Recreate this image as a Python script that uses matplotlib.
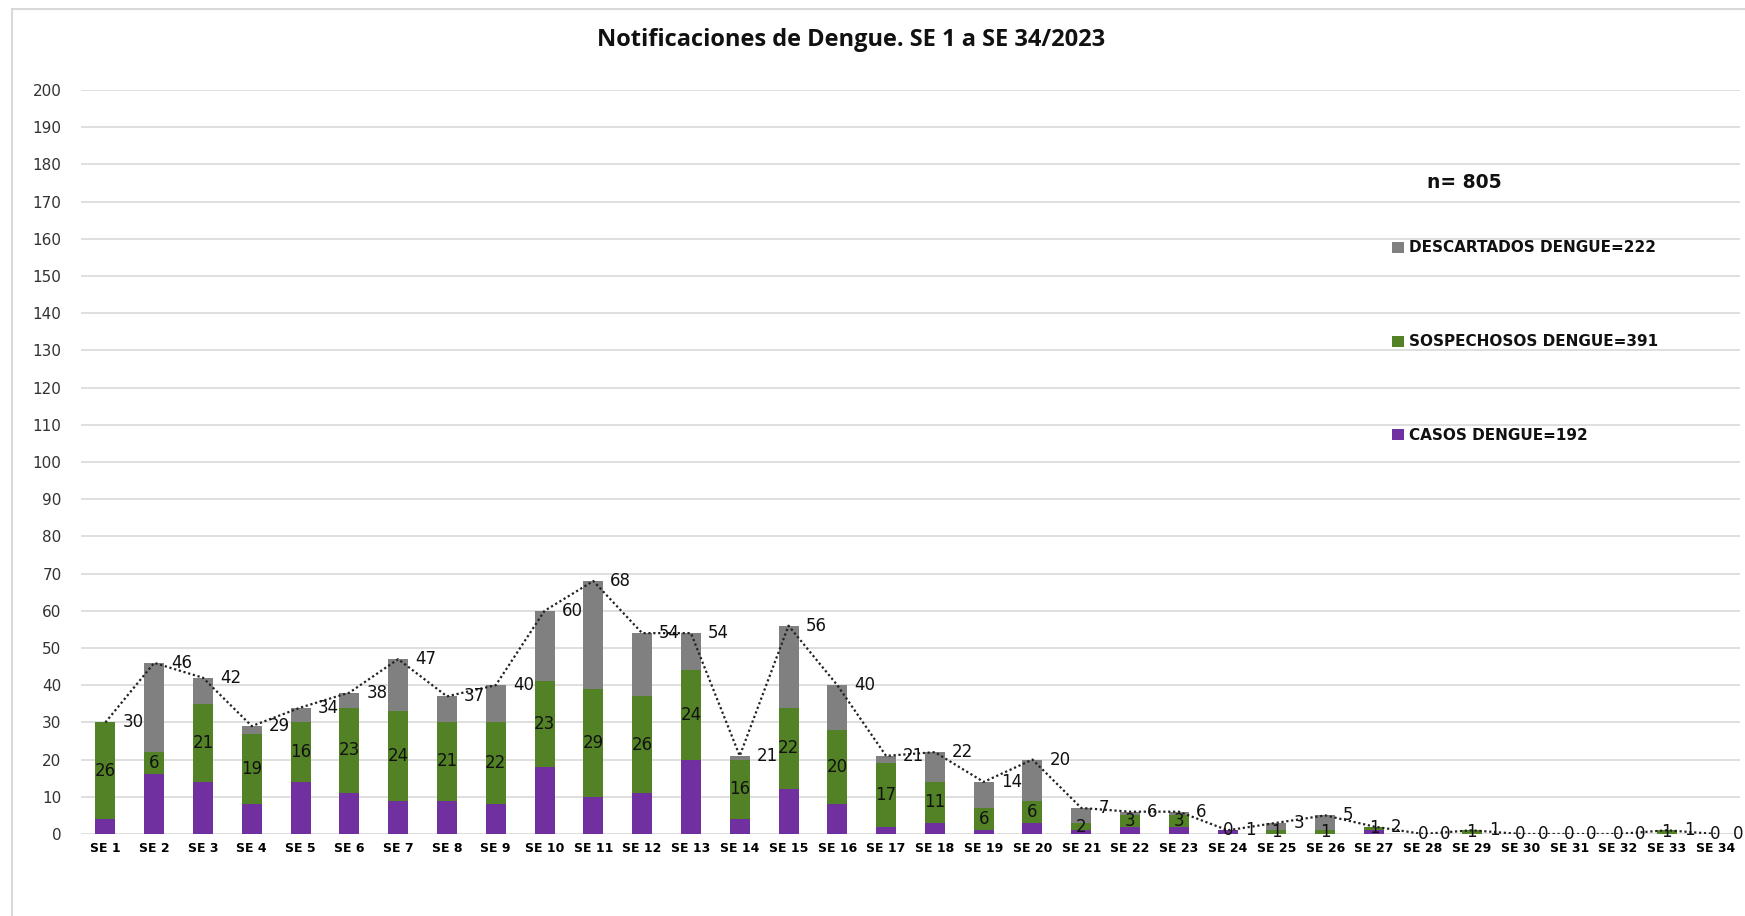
import matplotlib
matplotlib.use("Agg")
import matplotlib.pyplot as plt
from matplotlib.patches import Rectangle
import numpy as np

weeks = [f"SE {i}" for i in range(1, 35)]
casos = [4, 16, 14, 8, 14, 11, 9, 9, 8, 18, 10, 11, 20, 4, 12, 8, 2, 3, 1, 3,
         1, 2, 2, 1, 0, 0, 1, 0, 0, 0, 0, 0, 0, 0]
sospechosos = [26, 6, 21, 19, 16, 23, 24, 21, 22, 23, 29, 26, 24, 16, 22, 20, 17, 11, 6, 6,
               2, 3, 3, 0, 1, 1, 1, 0, 1, 0, 0, 0, 1, 0]
descartados = [0, 24, 7, 2, 4, 4, 14, 7, 10, 19, 29, 17, 10, 1, 22, 12, 2, 8, 7, 11,
               4, 1, 1, 0, 2, 4, 0, 0, 0, 0, 0, 0, 0, 0]
totales = [30, 46, 42, 29, 34, 38, 47, 37, 40, 60, 68, 54, 54, 21, 56, 40, 21, 22, 14, 20,
           7, 6, 6, 1, 3, 5, 2, 0, 1, 0, 0, 0, 1, 0]
y_ticks = list(range(0, 201, 10))
title = "Notificaciones de Dengue. SE 1 a SE 34/2023"
n_text = "n= 805"
legend_labels = ["DESCARTADOS DENGUE=222", "SOSPECHOSOS DENGUE=391", "CASOS DENGUE=192"]

c_purple = "#7030A0"
c_green = "#538226"
c_gray = "#808080"

W, H = 1745, 916
fig = plt.figure(figsize=(W / 100, H / 100), dpi=100)
fig.patch.set_facecolor("white")

# outer frame
fig.patches.append(Rectangle((12 / W, -0.05), 2.0, 1 - 9 / H + 0.05, transform=fig.transFigure,
                             fill=False, edgecolor="#D9D9D9", linewidth=1.5, zorder=0))

ax = fig.add_axes([81 / W, 1 - 834 / H, (1740 - 81) / W, (834 - 90) / H])
x = np.arange(len(weeks))
casos_a = np.array(casos)
sos_a = np.array(sospechosos)
des_a = np.array(descartados)
bw = 0.41
ax.bar(x, casos_a, bw, color=c_purple, zorder=3)
ax.bar(x, sos_a, bw, bottom=casos_a, color=c_green, zorder=3)
ax.bar(x, des_a, bw, bottom=casos_a + sos_a, color=c_gray, zorder=3)
ax.plot(x, totales, linestyle=(0, (1, 1.2)), color="#222222", linewidth=1.6, zorder=4)

lblfont = dict(family="DejaVu Sans", fontsize=12, color="#111111")
for i in range(len(weeks)):
    ax.text(x[i], casos_a[i] + sos_a[i] / 2, str(sospechosos[i]), ha="center", va="center",
            zorder=5, **lblfont)
    ax.annotate(str(totales[i]), (x[i], totales[i]), xytext=(17, 0), textcoords="offset pixels",
                ha="left", va="center", zorder=5, **lblfont)

ax.set_xlim(-0.5, len(weeks) - 0.5)
ax.set_ylim(0, 200)
ax.set_yticks(y_ticks)
ax.set_xticks(x)
ax.set_xticklabels(weeks, fontsize=9, fontweight="bold", family="DejaVu Sans")
ax.tick_params(axis="y", labelsize=11, length=0, pad=14, labelcolor="#333333")
ax.tick_params(axis="x", length=0, pad=6)
for lbl in ax.get_yticklabels():
    lbl.set_family("DejaVu Sans")
ax.grid(axis="y", color="#D9D9D9", linewidth=1.2, zorder=0)
ax.set_axisbelow(True)
for s in ax.spines.values():
    s.set_visible(False)

fig.text(851 / W, 1 - 40 / H, title, ha="center", va="center", fontsize=17,
         fontweight="bold", family="Open Sans", color="#111111")
fig.text(1427 / W, 1 - 182 / H, n_text, ha="left", va="center", fontsize=13.5,
         fontweight="bold", family="DejaVu Sans", color="#111111")

leg_y = [248, 342, 435]
leg_c = [c_gray, c_green, c_purple]
for yy, cc, lab in zip(leg_y, leg_c, legend_labels):
    fig.patches.append(Rectangle((1392 / W, 1 - (yy + 5) / H), 12 / W, 11 / H,
                                 transform=fig.transFigure, facecolor=cc, edgecolor="none"))
    fig.text(1409 / W, 1 - yy / H, lab, ha="left", va="center", fontsize=11,
             fontweight="bold", family="DejaVu Sans", color="#111111")

fig.savefig("out.png", dpi=100, facecolor="white")
